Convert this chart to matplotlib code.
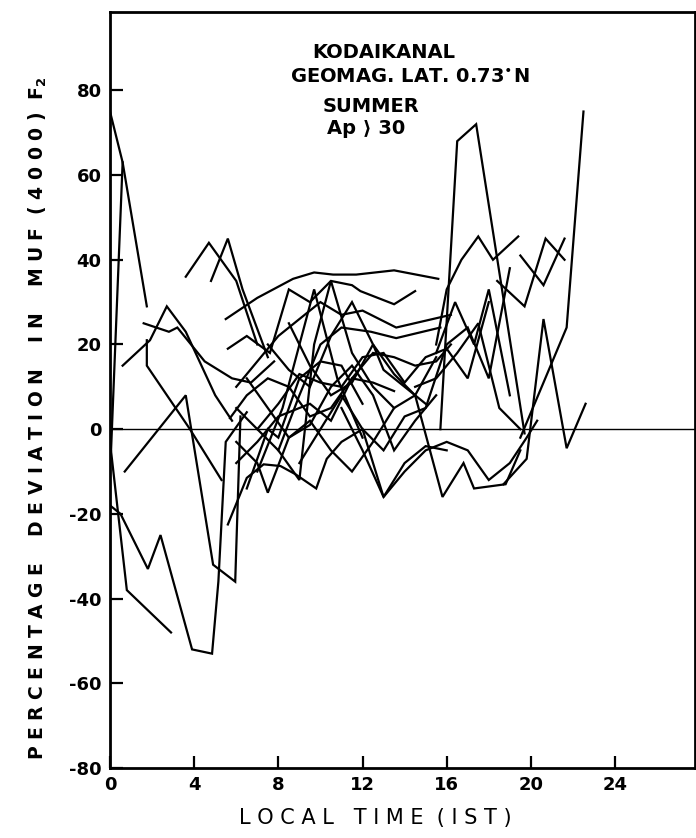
import matplotlib
matplotlib.use('Agg')
import matplotlib.pyplot as plt

# local time (IST) and % deviation of MUF(4000)F2, one pair per trace
t1 = [0, 0.6, 1.75]
d1 = [75, 63, 29]
t2 = [0.05, 0.6]
d2 = [-5, 63]
t3 = [0, 0.8, 2.9]
d3 = [-3, -38, -48]
t4 = [0, 0.5, 1.8, 2.4, 3.9, 4.85, 5.15, 5.5, 6.5]
d4 = [-18, -20, -33, -25, -52, -53, -36, -3, 4]
t5 = [0.7, 3.6, 4.9, 5.95, 6.2]
d5 = [-10, 8, -32, -36, 3]
t6 = [0.6, 1.9, 2.7, 3.6, 5.0, 5.8]
d6 = [15, 21, 29, 23, 8, 2]
t7 = [1.6, 2.8, 3.2, 4.5, 5.8, 6.7, 7.8]
d7 = [25, 23, 24, 16, 12, 11, 16]
t8 = [1.75, 1.75, 3.8, 5.3]
d8 = [21, 15, 0, -12]
t9 = [3.6, 4.7, 6.0, 7.0]
d9 = [36, 44, 35, 20]
t10 = [4.8, 5.6, 6.3, 7.5]
d10 = [35, 45, 33, 17]
t11 = [5.5, 7.0, 8.7, 9.7, 10.6, 11.7, 13.5, 15.6]
d11 = [26, 31, 35.5, 37, 36.5, 36.5, 37.5, 35.5]
t12 = [5.6, 6.5, 7.6, 8.5, 9.5, 10.5, 11.5, 11.9, 13.5, 14.5]
d12 = [19, 22, 18, 33, 30, 35, 34, 32.6, 29.5, 32.6]
t13 = [6.0, 7.0, 8.0, 9.0, 10.0, 11.0, 12.0, 13.6, 16.2]
d13 = [10, 16, 22, 26, 30, 27, 28, 24, 27]
t14 = [6, 7, 8, 9, 10, 11, 12.4, 13.6, 15.7]
d14 = [5, 0, -5, 8, 20, 24, 23, 21.5, 24]
t15 = [5.7, 6.5, 7.5, 8.5, 9.5, 10.5, 11.5, 12.5, 13.5, 14.5, 15.5, 16.2]
d15 = [2.6, 8, 12, 10, 3, 5, 12, 18, 17, 15, 16, 20]
t16 = [5.6, 6.5, 7.3, 8.1, 8.8, 9.8, 10.3, 11, 12, 13, 14, 15, 16]
d16 = [-22.5, -11.5, -8.3, -8.7, -10.6, -14, -7, -3, 0, -16, -8, -4, -5]
t17 = [6.0, 7.0, 7.5, 8.5, 9.5, 10.5, 11.5, 12.5, 13.5, 14.5, 15.8, 16.8, 17.3, 18.8, 19.5]
d17 = [-3, -8, -15, -2, 2, -5, -10, -3, 5, 8, -16, -8, -14, -13, -5]
t18 = [7.0, 8.2, 9.7, 10.8, 12.0]
d18 = [-10, 5, 33, 12, -2]
t19 = [8.0, 9.0, 9.7, 10.5, 11.5, 12.5, 13.5]
d19 = [-5, -12, 20, 35, 18, 10, 5]
t20 = [6.5, 7.5, 8.5, 9.5, 10.5, 11.5, 12.5, 13.5, 14.5, 15.5]
d20 = [12, 5, -2, 1, 10, 15, 8, -5, 2, 8]
t21 = [7.0, 8.0, 9.0, 10.0, 11.0, 12.0, 13.0, 14.0, 15.0, 16.0, 17.0, 18.0]
d21 = [0, 6, 13, 11, 10, 17, 18, 11, 17, 19, 12, 30]
t22 = [11.0, 12.0, 13.0, 14.0, 15.0, 16.0, 17.0, 18.0, 19.0, 19.8, 20.3]
d22 = [5, -5, -16, -10, -5, -3, -5, -12, -8, -2, 2]
t23 = [15.7, 16.5, 17.4, 19.7]
d23 = [0, 68, 72, -1]
t24 = [19.5, 21.7, 22.5]
d24 = [-2, 24, 75]
t25 = [18.7, 19.8, 20.6, 21.7, 22.6]
d25 = [-13, -7, 26, -4.5, 6]
t26 = [15.5, 16.0, 16.7, 17.5, 18.2, 19.4]
d26 = [20, 33, 40, 45.5, 40, 45.5]
t27 = [19.5, 20.6, 21.6]
d27 = [41, 34, 45]
t28 = [18.4, 19.7, 20.7, 21.6]
d28 = [35, 29, 45, 40]
t29 = [15.5, 16.4, 17.3, 18.0, 19.0]
d29 = [18, 30, 20, 33, 8]
t30 = [14.5, 15.5, 16.5, 17.5, 18.5, 19.5]
d30 = [10, 12, 18, 25, 5, 0]
t31 = [7.5, 8.5, 9.5, 10.5, 11.5, 12.5, 13.5, 14.5, 15.5]
d31 = [20, 14, 10, 22, 30, 20, 13, 8, 17]
t32 = [6.0, 7.0, 8.0, 9.5, 10.5, 11.5, 12.5, 13.5]
d32 = [-8, -3, 3, 6, 2, 12, 11, 9]
t33 = [8.5, 9.5, 10.5, 11.5, 12.5, 13.0, 14.0, 15.0]
d33 = [25, 15, 8, 11, 20, 14, 10, 6]
t34 = [9.0, 10.0, 11.0, 12.0, 13.0, 14.0, 15.0, 16.0, 17.0, 18.0, 19.0]
d34 = [-8, 0, 8, 0, -5, 3, 5, 20, 24, 12, 38]
t35 = [6.5, 7.5, 8.0, 9.0, 10.0, 11.0, 12.0]
d35 = [-14, 0, -2, 12, 16, 15, 6]

traces = [(t1, d1), (t2, d2), (t3, d3), (t4, d4), (t5, d5), (t6, d6),
          (t7, d7), (t8, d8), (t9, d9), (t10, d10), (t11, d11), (t12, d12),
          (t13, d13), (t14, d14), (t15, d15), (t16, d16), (t17, d17),
          (t18, d18), (t19, d19), (t20, d20), (t21, d21), (t22, d22),
          (t23, d23), (t24, d24), (t25, d25), (t26, d26), (t27, d27),
          (t28, d28), (t29, d29), (t30, d30), (t31, d31), (t32, d32),
          (t33, d33), (t34, d34), (t35, d35)]

xticks = [0, 4, 8, 12, 16, 20, 24]
yticks = [-80, -60, -40, -20, 0, 20, 40, 60, 80]

W, H = 696, 838
fig = plt.figure(figsize=(W / 100, H / 100), dpi=100)
ax = fig.add_axes([110 / W, 70 / H, 585 / W, 756 / H])

for t, d in traces:
    ax.plot(t, d, color='black', linewidth=1.6, solid_joinstyle='miter')
ax.axhline(0, color='black', linewidth=1.0)

ax.set_xlim(0, 27.8)
ax.set_ylim(-80, 98.5)
for s in ax.spines.values():
    s.set_linewidth(2.0)

ax.set_xticks(xticks)
ax.set_xticklabels([str(v) for v in xticks])
ax.set_yticks(yticks)
ax.set_yticklabels(['-' + str(-v) if v < 0 else str(v) for v in yticks])
ax.tick_params(direction='in', length=9, width=1.6, labelsize=13, pad=6)
for lab in ax.get_xticklabels() + ax.get_yticklabels():
    lab.set_fontweight('bold')

def ftext(x, y, s, **kw):
    fig.text(x / W, 1 - y / H, s, color='black', **kw)

ftext(384, 52, 'KODAIKANAL', ha='center', va='center', fontsize=14, fontweight='bold')
ftext(410, 77, 'GEOMAG. LAT. 0.73$^{\\bullet}$N', ha='center', va='center', fontsize=14, fontweight='bold')
ftext(371, 107, 'SUMMER', ha='center', va='center', fontsize=14, fontweight='bold')
ftext(366, 128, 'Ap \u27e9 30', ha='center', va='center', fontsize=14, fontweight='bold')

ftext(38, 418, 'P E R C E N T A G E    D E V I A T I O N    I N    M U F  ( 4 0 0 0 )  F$_\\mathbf{2}$',
      rotation=90, ha='center', va='center', fontsize=13.5, fontweight='bold')
ftext(375, 818, 'L O C A L   T I M E  ( I S T )', ha='center', va='center', fontsize=15)

fig.savefig('out.png', dpi=100)
